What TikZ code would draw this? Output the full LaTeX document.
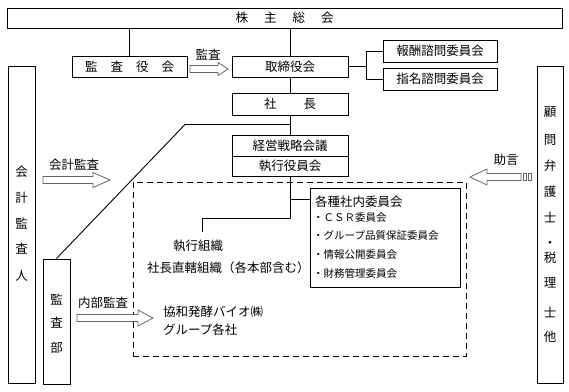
\documentclass[tikz,border=0pt]{standalone}
\usepackage{fontspec}
\setmainfont{Noto Sans CJK JP}
\begin{document}
\begin{tikzpicture}[x=1pt,y=-1pt,
  box/.style={draw, line width=1pt, inner sep=0pt, font=\fontsize{12.5}{14}\selectfont},
  conn/.style={line width=0.9pt},
  arrowline/.style={draw=black!60, line width=0.8pt, fill=white},
  lbl/.style={inner sep=0pt, font=\fontsize{12.5}{14}\selectfont},
  small/.style={inner sep=0pt, anchor=west, font=\fontsize{10.5}{12}\selectfont},
  pics/barr/.style n args={3}{code={
    \path[arrowline] (0,-3.5) -- ({#1-#2},-3.5) -- ({#1-#2},-#3) -- (#1,0) -- ({#1-#2},#3) -- ({#1-#2},3.5) -- (0,3.5) -- cycle;}}
]
\useasboundingbox (0,0) rectangle (569,391);

% boxes
\node[box, minimum width=555pt, minimum height=20pt] (gm) at (284.5,18) {株\hspace{16pt}主\hspace{16pt}総\hspace{16pt}会};
\node[box, minimum width=115pt, minimum height=21pt] (kyk) at (129.5,66.5) {監\hspace{13pt}査\hspace{13pt}役\hspace{13pt}会};
\node[box, minimum width=116pt, minimum height=21pt] (board) at (290,66.5) {取締役会};
\node[box, minimum width=114pt, minimum height=22pt] (hoshu) at (440,51) {報酬諮問委員会};
\node[box, minimum width=114pt, minimum height=22pt] (shimei) at (440,79) {指名諮問委員会};
\node[box, minimum width=116pt, minimum height=22pt] (pres) at (290,104) {社\hspace{27pt}長};
\node[box, minimum width=116pt, minimum height=21pt] (strat) at (290,145.5) {経営戦略会議};
\node[box, minimum width=116pt, minimum height=20pt] (exec) at (290,166) {執行役員会};
\node[box, minimum width=27pt, minimum height=317pt] (acct) at (21.5,224.5) {};
\node[box, minimum width=27pt, minimum height=125pt] (iad) at (56.5,321.5) {};
\node[box, minimum width=26pt, minimum height=317pt] (adv) at (550,224.5) {};
\node[box, minimum width=150pt, minimum height=99pt] (comm) at (385,237.5) {};
\node[draw, dash pattern=on 6pt off 4pt, line width=1pt, minimum width=333pt, minimum height=174pt, inner sep=0pt] (org) at (299.5,269) {};

% vertical labels
\foreach \c/\y [count=\i] in {会/172,計/198,監/224,査/249,人/276}
  \node[lbl] (acct\i) at (21.5,\y) {\c};
\foreach \c/\y [count=\i] in {監/300,査/323,部/348}
  \node[lbl] (iad\i) at (56.5,\y) {\c};
\foreach \c/\y [count=\i] in {顧/112,問/140,弁/166,護/192,士/217,・/244,税/258,理/283,士/312,他/337}
  \node[lbl] (adv\i) at (550,\y) {\c};

% connectors
\draw[conn] (kyk.north) -- (kyk.north |- gm.south);
\draw[conn] (board.north) -- (board.north |- gm.south);
\draw[conn] (board.south) -- (pres.north);
\draw[conn] (pres.south) -- (strat.north);
\coordinate (br) at (366,66.5);
\draw[conn] (board.east) -- (br);
\draw[conn] (hoshu.west) -- (hoshu.west -| br) -- (shimei.west -| br) -- (shimei.west);
\coordinate (j1) at (290,124.5);
\coordinate (k1) at (185,124.5);
\draw[conn] (j1) -- (k1) -- (iad.north);
\coordinate (j2) at (290,199);
\coordinate (j3) at (290,218);
\coordinate (eo) at (202,232);
\draw[conn] (exec.south) -- (j3) -- (j3 -| eo) -- (eo);
\draw[conn] (j2) -- (j2 -| comm.west);

% texts
\node[lbl] (shikko) at (198,246) {執行組織};
\node[lbl, anchor=west] (chokkatsu) at (147,268) {社長直轄組織（各本部含む）};
\node[lbl, anchor=west] (kyowa) at (163,312) {協和発酵バイオ㈱};
\node[lbl, anchor=west] (group) at (163,330) {グループ各社};
\node[lbl] (naibu) at (103,303) {内部監査};
\node[lbl] (kaikei) at (74,165) {会計監査};
\node[lbl] (kansa) at (208,55) {監査};
\node[lbl] (jogen) at (506,160) {助言};

\node[lbl, anchor=west] (cttl) at (315,202) {各種社内委員会};
\node[small] (c1) at (313,217.5) {・ＣＳＲ委員会};
\node[small] (c2) at (313,236) {・グループ品質保証委員会};
\node[small] (c3) at (313,254.5) {・情報公開委員会};
\node[small] (c4) at (313,273) {・財務管理委員会};

% block arrows
\pic at (43,180) {barr={67}{17}{7.5}};
\pic at (77,318) {barr={76}{15}{8}};
\pic at (190,69) {barr={38}{10}{6.5}};
\pic[rotate=180] at (521,177) {barr={51}{17}{8}};
\path[arrowline] (523,173.5) rectangle (526,180.5);
\path[arrowline] (528.5,173.5) rectangle (531,180.5);
\end{tikzpicture}
\end{document}
